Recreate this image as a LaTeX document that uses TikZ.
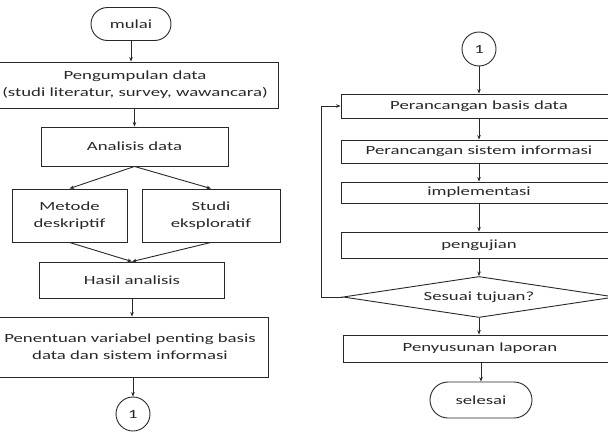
\documentclass[tikz,border=0pt]{standalone}
\usepackage{fontspec}
\setmainfont[FakeStretch=1.5]{Carlito}
\usetikzlibrary{arrows.meta,shapes.geometric,shapes.misc}
\definecolor{inkc}{RGB}{40,40,40}
\begin{document}
\begin{tikzpicture}[x=1pt,y=-1pt,
  ln/.style={draw=inkc, line width=0.9pt},
  box/.style={ln, rectangle, inner sep=0pt, align=center, text=inkc,
    font=\fontsize{12.5}{17}\selectfont},
  term/.style={box, rounded rectangle},
  conn/.style={box, circle, minimum size=34pt},
  dec/.style={box, diamond, aspect=6.5},
  arr/.style={ln, -{Stealth[length=4.5pt,width=3.5pt]}}]
\useasboundingbox (0,0) rectangle (608,434);
\clip (0,0) rectangle (608,434);
% left column
\node[term, minimum width=80pt, minimum height=33pt] (mulai) at (131,24) {mulai};
\node[box, minimum width=286pt, minimum height=46pt] (peng) at (135,85) {Pengumpulan data\\(studi literatur, survey, wawancara)};
\node[box, minimum width=187pt, minimum height=39pt] (anal) at (134.5,146.5) {Analisis data};
\node[box, minimum width=115pt, minimum height=53pt] (metode) at (69.5,215.5) {Metode\\deskriptif};
\node[box, minimum width=138pt, minimum height=53pt] (studi) at (211,215.5) {Studi\\eksploratif};
\node[box, minimum width=185pt, minimum height=36pt] (hasil) at (132,280) {Hasil analisis};
\node[box, minimum width=276pt, minimum height=60pt] (penen) at (130,347) {Penentuan variabel penting basis\\data dan sistem informasi};
\node[conn] (c1) at (133,414) {1};
% right column
\node[conn] (c2) at (479,49) {1};
\node[box, minimum width=276pt, minimum height=24pt] (pbd) at (479,106) {Perancangan basis data};
\node[box, minimum width=276pt, minimum height=23pt] (psi) at (479,151.5) {Perancangan sistem informasi};
\node[box, minimum width=276pt, minimum height=21pt] (impl) at (479,192.5) {implementasi};
\node[box, minimum width=276pt, minimum height=26pt] (peng2) at (479,245) {pengujian};
\node[dec, minimum width=272pt, minimum height=41pt] (dec) at (479,297) {Sesuai tujuan?};
\node[box, minimum width=274pt, minimum height=27pt] (lapor) at (480,348.5) {Penyusunan laporan};
\node[term, minimum width=102pt, minimum height=36pt] (selesai) at (481,400) {selesai};
% connectors left
\draw[arr] (mulai.south) -- (mulai.south |- peng.north);
\draw[arr] (anal.north |- peng.south) -- (anal.north);
\draw[arr] (anal.south) -- (metode.north);
\draw[arr] (anal.south) -- (studi.north);
\draw[arr] (metode.south) -- (hasil.north);
\draw[arr] (studi.south) -- (hasil.north);
\draw[arr] (hasil.south) -- (hasil.south |- penen.north);
\draw[arr] (c1.north |- penen.south) -- (c1.north);
% connectors right
\draw[arr] (c2.south) -- (pbd.north);
\draw[arr] (pbd.south) -- (psi.north);
\draw[arr] (psi.south) -- (impl.north);
\draw[arr] (impl.south) -- (peng2.north);
\draw[arr] (peng2.south) -- (dec.north);
\draw[arr] (dec.south) -- (dec.south |- lapor.north);
\draw[arr] (selesai.north |- lapor.south) -- (selesai.north);
\draw[arr] (dec.west) -- ++(-21,0) |- (pbd.west);
\end{tikzpicture}
\end{document}
